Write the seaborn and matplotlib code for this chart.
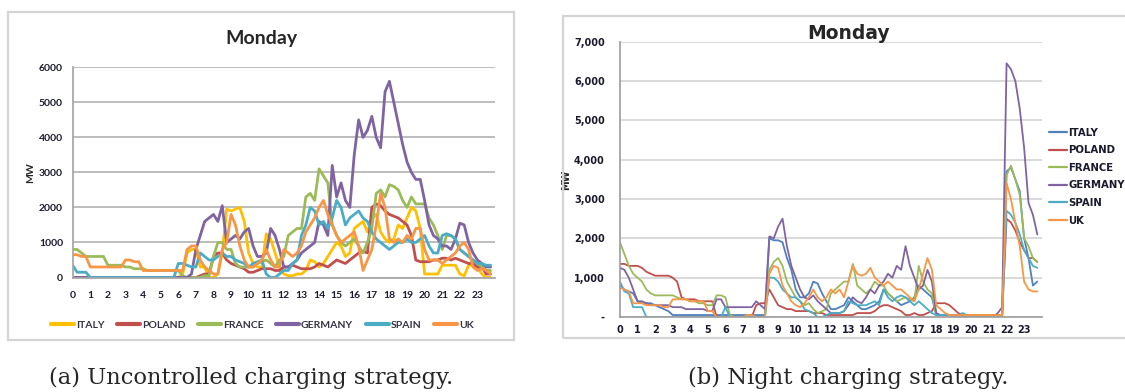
import numpy as np
import pandas as pd
import matplotlib
matplotlib.use("Agg")
import matplotlib.pyplot as plt
import seaborn as sns
from matplotlib.patches import Rectangle
from matplotlib.lines import Line2D
from matplotlib.ticker import FuncFormatter

# ---------------------------------------------------------------------------
# Data: EV charging load (MW) on a Monday, quarter-hour resolution
# ---------------------------------------------------------------------------
countries = ["ITALY", "POLAND", "FRANCE", "GERMANY", "SPAIN", "UK"]
hour_ticks = list(range(24))
time_of_day = np.arange(96) / 4.0

# (a) uncontrolled charging
unc_italy = [
    0, 0, 0, 0, 0, 0, 0, 0, 0, 0, 0, 0, 0, 0, 0, 0, 0, 0, 0, 0, 0, 0, 0, 0,
    0, 100, 700, 800, 800, 300, 300, 0, 0, 100, 700, 1950, 1900, 1950, 2000, 1600, 700, 400, 300, 300, 1250, 1100, 700, 300,
    100, 50, 50, 100, 100, 200, 500, 450, 300, 400, 600, 800, 1000, 900, 600, 700, 1400, 1500, 1600, 1300, 1700, 1800, 1300, 1100,
    1000, 1100, 1500, 1400, 1700, 2000, 1900, 1400, 100, 100, 100, 100, 350, 350, 350, 350, 100, 50, 350, 350, 300, 100, 0, 0,
]
unc_poland = [
    0, 0, 0, 0, 0, 0, 0, 0, 0, 0, 0, 0, 0, 0, 0, 0, 0, 0, 0, 0, 0, 0, 0, 0,
    0, 0, 0, 0, 0, 50, 100, 100, 600, 700, 700, 500, 400, 350, 300, 250, 150, 150, 200, 250, 250, 250, 200, 200,
    300, 300, 350, 300, 250, 250, 250, 300, 400, 350, 300, 400, 500, 450, 400, 500, 600, 700, 750, 700, 2000, 2100, 2050, 1900,
    1800, 1750, 1700, 1600, 1500, 1200, 500, 450, 450, 450, 500, 500, 550, 550, 500, 550, 500, 450, 400, 400, 300, 300, 100, 100,
]
unc_france = [
    800, 800, 700, 600, 600, 600, 600, 600, 350, 350, 350, 350, 300, 300, 250, 250, 250, 200, 200, 200, 200, 200, 200, 200,
    200, 50, 0, 0, 0, 0, 50, 50, 600, 1000, 1000, 800, 800, 400, 300, 300, 300, 300, 400, 450, 500, 400, 300, 500,
    600, 1200, 1300, 1400, 1400, 2300, 2400, 2200, 3100, 2900, 2700, 1500, 1200, 1000, 900, 1000, 1100, 900, 700, 1000, 1400, 2400, 2500, 2300,
    2650, 2600, 2500, 2200, 2000, 2300, 2100, 2100, 2100, 1700, 1500, 1200, 800, 1200, 1200, 1100, 800, 700, 600, 500, 400, 300, 200, 200,
]
unc_germany = [
    0, 0, 0, 0, 0, 0, 0, 0, 0, 0, 0, 0, 0, 0, 0, 0, 0, 0, 0, 0, 0, 0, 0, 0,
    0, 0, 0, 100, 800, 1200, 1600, 1700, 1800, 1600, 2050, 1000, 1100, 1200, 1100, 1300, 1400, 900, 600, 600, 700, 1400, 1200, 800,
    300, 300, 400, 500, 700, 800, 900, 1000, 1600, 1500, 1200, 3200, 2300, 2700, 2200, 2000, 3500, 4500, 4000, 4200, 4600, 4000, 3700, 5300,
    5600, 5000, 4400, 3800, 3300, 3000, 2800, 2800, 2200, 1500, 1200, 1100, 900, 900, 800, 1100, 1550, 1500, 1000, 700, 500, 400, 300, 300,
]
unc_spain = [
    350, 150, 150, 150, 0, 0, 0, 0, 0, 0, 0, 0, 0, 0, 0, 0, 0, 0, 0, 0, 0, 0, 0, 0,
    400, 400, 350, 300, 300, 700, 600, 500, 500, 600, 700, 600, 600, 500, 450, 400, 300, 400, 450, 500, 100, 0, 0, 100,
    200, 200, 400, 500, 1200, 1500, 2000, 1900, 1500, 1600, 1400, 1700, 2200, 2000, 1500, 1700, 1800, 1900, 1700, 1600, 1300, 1100, 1000, 900,
    800, 900, 1000, 1000, 1100, 1000, 1000, 1100, 1200, 900, 700, 700, 1200, 1250, 1200, 1100, 800, 700, 600, 500, 400, 400, 350, 350,
]
unc_uk = [
    650, 650, 600, 600, 300, 300, 300, 300, 300, 300, 300, 300, 500, 500, 450, 450, 200, 200, 200, 200, 200, 200, 200, 200,
    200, 200, 800, 900, 900, 500, 300, 200, 100, 100, 800, 1000, 1800, 1500, 900, 500, 300, 300, 400, 500, 800, 500, 300, 300,
    800, 700, 600, 700, 900, 1300, 1500, 1700, 2000, 2200, 1800, 1500, 1200, 1000, 1100, 1200, 1300, 900, 200, 500, 800, 1500, 2400, 2000,
    1100, 1000, 1100, 1000, 1200, 1100, 1400, 1400, 800, 500, 500, 500, 400, 500, 600, 700, 900, 1000, 800, 300, 200, 250, 200, 100,
]

# (b) night charging
night_italy = [
    800, 700, 650, 600, 400, 350, 350, 350, 300, 250, 200, 150, 50, 50, 50, 50, 50, 50, 50, 50, 50, 50, 50, 50,
    50, 50, 50, 50, 50, 50, 50, 50, 50, 50, 2000, 1950, 1950, 1900, 1500, 1200, 700, 500, 500, 600, 900, 850, 600, 400,
    200, 200, 250, 300, 500, 400, 300, 200, 200, 250, 300, 400, 700, 600, 500, 400, 300, 350, 400, 500, 800, 700, 600, 500,
    50, 50, 50, 50, 50, 50, 50, 50, 50, 50, 50, 50, 50, 50, 50, 50, 3700, 3800, 3500, 3200, 2000, 1500, 800, 900,
]
night_poland = [
    1350, 1350, 1300, 1300, 1300, 1250, 1150, 1100, 1050, 1050, 1050, 1050, 1000, 900, 500, 450, 450, 450, 400, 400, 400, 400, 0, 0,
    0, 0, 0, 0, 0, 0, 0, 300, 350, 350, 700, 500, 300, 250, 200, 200, 150, 150, 150, 150, 100, 100, 100, 50,
    50, 50, 50, 50, 50, 50, 100, 100, 100, 100, 150, 250, 300, 300, 250, 200, 150, 50, 50, 100, 50, 50, 100, 150,
    350, 350, 350, 300, 200, 100, 50, 50, 50, 50, 50, 50, 50, 50, 50, 50, 2500, 2400, 2200, 1900, 1700, 1500, 1500, 1400,
]
night_france = [
    1900, 1600, 1300, 1100, 1000, 900, 700, 600, 550, 550, 550, 550, 550, 500, 450, 450, 400, 400, 350, 350, 300, 300, 550, 550,
    500, 50, 0, 0, 0, 0, 0, 0, 0, 0, 1200, 1400, 1500, 1300, 900, 700, 500, 400, 300, 350, 200, 100, 150, 200,
    600, 700, 800, 900, 900, 1350, 800, 700, 600, 700, 900, 800, 800, 600, 500, 400, 450, 500, 450, 400, 1300, 900, 700, 600,
    50, 50, 50, 50, 50, 50, 50, 50, 50, 50, 50, 50, 50, 50, 50, 50, 3600, 3850, 3500, 3100, 2000, 1800, 1500, 1400,
]
night_germany = [
    1250, 1200, 1000, 700, 400, 400, 350, 300, 300, 300, 300, 300, 250, 250, 250, 200, 200, 200, 200, 200, 150, 150, 450, 450,
    250, 250, 250, 250, 250, 250, 250, 400, 300, 200, 2050, 2000, 2300, 2500, 1800, 1300, 1000, 700, 500, 450, 550, 400, 300, 200,
    100, 100, 100, 150, 300, 500, 400, 350, 500, 700, 600, 800, 900, 1100, 1000, 1300, 1200, 1800, 1300, 1000, 700, 800, 1200, 900,
    100, 50, 50, 50, 0, 0, 0, 0, 0, 0, 0, 0, 0, 0, 100, 250, 6450, 6300, 6000, 5300, 4300, 2900, 2600, 2100,
]
night_spain = [
    900, 650, 600, 250, 250, 250, 0, 0, 0, 0, 0, 0, 0, 0, 0, 0, 0, 0, 0, 0, 0, 0, 0, 0,
    250, 0, 0, 0, 0, 0, 0, 0, 0, 0, 1000, 1000, 900, 700, 600, 500, 500, 400, 200, 150, 100, 0, 0, 50,
    100, 100, 100, 150, 400, 350, 300, 300, 300, 350, 400, 300, 700, 500, 400, 500, 550, 500, 400, 300, 400, 300, 200, 100,
    50, 50, 50, 50, 50, 50, 100, 50, 0, 0, 0, 0, 0, 0, 0, 0, 2700, 2600, 2400, 2100, 1700, 1500, 1300, 1250,
]
night_uk = [
    750, 700, 650, 350, 350, 350, 300, 300, 300, 300, 250, 250, 450, 450, 450, 450, 400, 400, 400, 400, 150, 150, 0, 0,
    0, 0, 0, 0, 0, 50, 50, 0, 0, 0, 1100, 1300, 1250, 800, 600, 400, 300, 250, 350, 500, 700, 500, 400, 500,
    700, 600, 700, 500, 900, 1300, 1100, 1050, 1100, 1250, 1000, 900, 800, 900, 800, 700, 700, 600, 500, 400, 700, 1100, 1500, 1200,
    300, 200, 100, 50, 50, 50, 50, 50, 50, 50, 50, 50, 50, 50, 50, 50, 3400, 3000, 2400, 1800, 900, 700, 650, 650,
]

unc_series = [unc_italy, unc_poland, unc_france, unc_germany, unc_spain, unc_uk]
night_series = [night_italy, night_poland, night_france, night_germany, night_spain, night_uk]

unc_colors = ["#FFC000", "#C0504D", "#9BBB59", "#8064A2", "#4BACC6", "#F79646"]
night_colors = ["#4F81BD", "#C0504D", "#9BBB59", "#8064A2", "#4BACC6", "#F79646"]


def long_frame(series):
    parts = []
    for name, vals in zip(countries, series):
        parts.append(pd.DataFrame({"time": time_of_day, "MW": vals, "country": name}))
    return pd.concat(parts, ignore_index=True)


df_unc = long_frame(unc_series)
df_night = long_frame(night_series)

sns.set_theme(style="white")
plt.rcParams["font.family"] = ["DejaVu Sans"]

W, H = 1125, 392
fig = plt.figure(figsize=(W / 100, H / 100), dpi=100)

# Chart frames
fig.add_artist(Rectangle((7.5 / W, 1 - 340 / H), 506.5 / W, 328 / H, transform=fig.transFigure,
                         fill=False, edgecolor="#d4d4d4", lw=1.6))
fig.add_artist(Rectangle((563 / W, 1 - 338 / H), 580 / W, 322 / H, transform=fig.transFigure,
                         fill=False, edgecolor="#d4d4d4", lw=1.6))

# ---------------- (a) uncontrolled ----------------
ax1 = fig.add_axes([72.7 / W, 1 - 277.5 / H, 422.3 / W, 210.2 / H])
sns.lineplot(data=df_unc, x="time", y="MW", hue="country", hue_order=countries,
             palette=unc_colors, estimator=None, lw=2.0, legend=False, ax=ax1)
ax1.set_xlim(0, 24)
ax1.set_ylim(0, 6000)
ax1.set_yticks(range(0, 6001, 1000))
ax1.set_xticks(hour_ticks)
ax1.yaxis.grid(True, color="#bdbdbd", lw=1.4)
ax1.set_axisbelow(True)
for s in ["top", "right"]:
    ax1.spines[s].set_visible(False)
ax1.spines["left"].set_color("#a6a6a6")
ax1.spines["bottom"].set_color("#a6a6a6")
ax1.tick_params(axis="x", direction="out", length=4, color="#a6a6a6", pad=6,
                labelsize=7.5, labelcolor="#1a1a2e")
ax1.tick_params(axis="y", length=0, pad=7, labelsize=7.5, labelcolor="#1a1a2e")
for lab in ax1.get_xticklabels() + ax1.get_yticklabels():
    lab.set_fontweight("bold")
    lab.set_family("Lato")
ax1.set_xlabel("")
ax1.set_ylabel("MW", fontsize=7.5, fontweight="bold", family="Lato", labelpad=3)
ax1.set_title("Monday", fontsize=14, fontweight="bold", family="Lato", x=0.4465, pad=17)

handles1 = [Line2D([], [], color=c, lw=3) for c in unc_colors]
leg1 = ax1.legend(handles1, countries, loc="center", bbox_to_anchor=(0.449, -0.226), ncol=6,
                  frameon=False, handlelength=2.2, handletextpad=0.2, columnspacing=1.2,
                  prop={"family": "Lato", "size": 7.5, "weight": "bold"})
for t in leg1.get_texts():
    t.set_color("#333344")

# ---------------- (b) night charging ----------------
ax2 = fig.add_axes([620 / W, 1 - 317 / H, 421.7 / W, 275.3 / H])
sns.lineplot(data=df_night, x="time", y="MW", hue="country", hue_order=countries,
             palette=night_colors, estimator=None, lw=1.3, legend=False, ax=ax2)
ax2.set_xlim(0, 24)
ax2.set_ylim(0, 7000)
ax2.set_yticks(range(0, 7001, 1000))
ax2.set_xticks(hour_ticks)
ax2.yaxis.set_major_formatter(FuncFormatter(lambda v, p: "-" if v == 0 else f"{v:,.0f}"))
ax2.yaxis.grid(True, color="#d0d0d0", lw=1.1)
ax2.set_axisbelow(True)
for s in ["top", "right"]:
    ax2.spines[s].set_visible(False)
ax2.spines["left"].set_color("#a0a0a0")
ax2.spines["bottom"].set_color("#a0a0a0")
ax2.tick_params(axis="x", direction="out", length=2, color="#a0a0a0", pad=4,
                labelsize=7, labelcolor="#1a1a2e")
ax2.tick_params(axis="y", length=0, pad=11, labelsize=7, labelcolor="#1a1a2e")
for lab in ax2.get_xticklabels() + ax2.get_yticklabels():
    lab.set_fontweight("bold")
ax2.set_xlabel("")
ax2.set_ylabel("MW", fontsize=7, fontweight="bold")
ax2.yaxis.set_label_coords((571 - 620) / 421.7, (317 - 180) / 275.3)
ax2.set_title("Monday", fontsize=13.5, fontweight="bold", x=(849 - 620) / 421.7, pad=2)

handles2 = [Line2D([], [], color=c, lw=1.6) for c in night_colors]
leg2 = ax2.legend(handles2, countries, loc="center left", bbox_to_anchor=(1.007, 0.51),
                  frameon=False, handlelength=1.8, handletextpad=0.15, labelspacing=0.75,
                  borderaxespad=0.0, prop={"weight": "bold", "size": 7.3})
for t in leg2.get_texts():
    t.set_color("#1a1a2e")

# Captions
fig.text(251 / W, 1 - 378 / H, "(a) Uncontrolled charging strategy.", ha="center", va="center",
         fontsize=16.3, family="DejaVu Serif")
fig.text(848 / W, 1 - 378 / H, "(b) Night charging strategy.", ha="center", va="center",
         fontsize=16.3, family="DejaVu Serif")

fig.savefig("out.png", dpi=100)
